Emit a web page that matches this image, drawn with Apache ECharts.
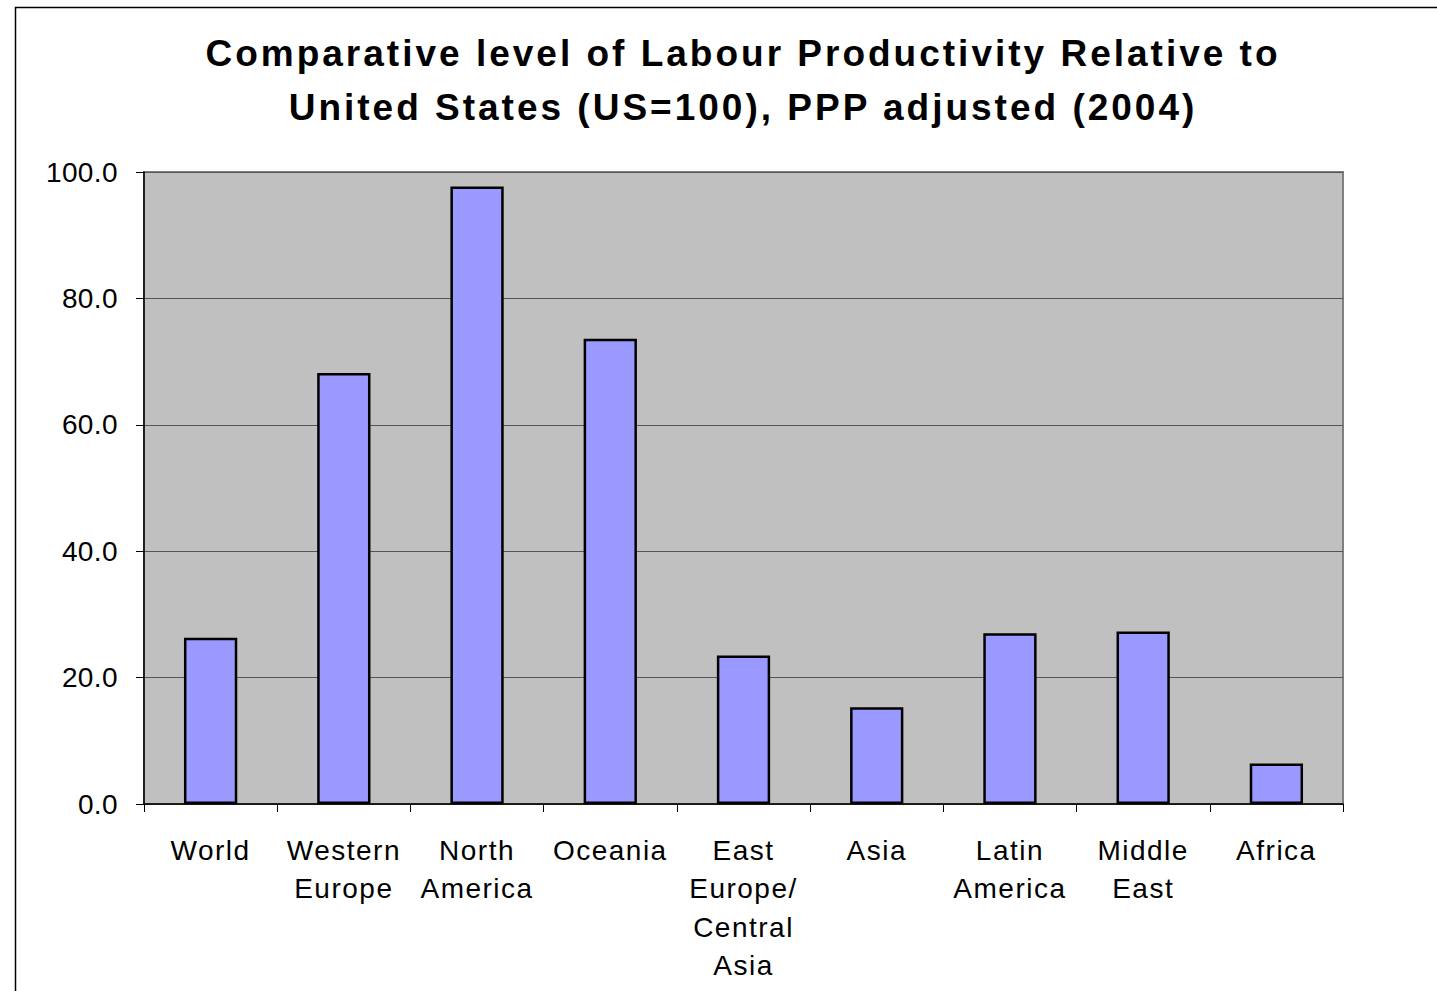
<!DOCTYPE html>
<html>
<head>
<meta charset="utf-8">
<script src="https://cdn.jsdelivr.net/npm/echarts@6/dist/echarts.min.js"></script>
<style>
html,body{margin:0;padding:0;background:#fff;}
#chart{width:1437px;height:991px;}
</style>
</head>
<body>
<div id="chart"></div>
<script>
const categories = ['World', 'Western\nEurope', 'North\nAmerica', 'Oceania', 'East\nEurope/\nCentral\nAsia', 'Asia', 'Latin\nAmerica', 'Middle\nEast', 'Africa'];
const values = [26.3, 68.2, 97.7, 73.6, 23.5, 15.3, 27.0, 27.3, 6.4];
const yTicks = [0, 20, 40, 60, 80, 100];
const titleText = 'Comparative level of Labour Productivity Relative to\nUnited States (US=100), PPP adjusted (2004)';

const chart = echarts.init(document.getElementById('chart'), null, { renderer: 'svg' });
const FONT = '"Liberation Sans", Arial, sans-serif';
chart.setOption({
  animation: false,
  backgroundColor: '#ffffff',
  graphic: [
    { type: 'rect', shape: { x: 15.5, y: 7.5, width: 1500, height: 1100 },
      style: { fill: 'none', stroke: '#000', lineWidth: 1.5 }, z: -10 }
  ],
  title: {
    text: titleText,
    left: 738,
    textAlign: 'center',
    top: 21,
    textStyle: { fontFamily: FONT, fontWeight: 'bold', fontSize: 37, lineHeight: 54, color: '#000' }
  },
  grid: {
    left: 144, right: 94, top: 172, bottom: 187,
    show: true, backgroundColor: '#c0c0c0', borderColor: '#808080', borderWidth: 2
  },
  xAxis: {
    type: 'category',
    data: categories,
    axisLine: { lineStyle: { color: '#000', width: 1.5 } },
    axisTick: { show: true, alignWithLabel: false, length: 8, lineStyle: { color: '#000' } },
    axisLabel: { fontFamily: FONT, fontSize: 28, color: '#000', lineHeight: 38.5, margin: 27, interval: 0 }
  },
  yAxis: {
    type: 'value',
    min: yTicks[0], max: yTicks[yTicks.length - 1], interval: 20,
    axisLine: { show: true, lineStyle: { color: '#000', width: 1.5 } },
    axisTick: { show: true, length: 8, lineStyle: { color: '#000' } },
    axisLabel: { fontFamily: FONT, fontSize: 28, color: '#000', margin: 26,
      formatter: v => v.toFixed(1) },
    splitLine: { show: true, lineStyle: { color: '#555', width: 1.2 } }
  },
  series: [{
    type: 'bar',
    data: values,
    barWidth: '40%',
    itemStyle: { color: '#9999ff', borderColor: '#000', borderWidth: 2.5 }
  }]
});

// mimic the wider glyph spacing of the original rendering
document.querySelectorAll('#chart svg text').forEach(t => {
  const st = (t.getAttribute('style') || '') + ' ' + (t.getAttribute('font-size') || '');
  const txt = t.textContent;
  if (/bold/.test(st) || /37px/.test(st)) {
    t.setAttribute('letter-spacing', '3.0px');
  } else if (/^[\d.]+$/.test(txt)) {
    t.setAttribute('letter-spacing', '0.4px');
  } else {
    t.setAttribute('letter-spacing', '1.5px');
  }
});
</script>
</body>
</html>
